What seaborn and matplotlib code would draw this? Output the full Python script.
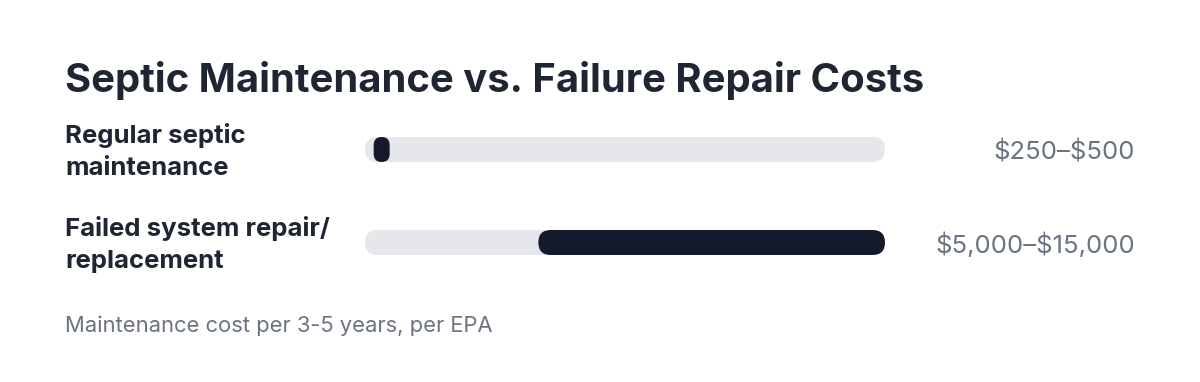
import numpy as np
import pandas as pd
import seaborn as sns
import matplotlib
matplotlib.use("Agg")
import matplotlib.pyplot as plt
from matplotlib.patches import FancyBboxPatch

# ---- data ----
categories = ["Regular septic\nmaintenance", "Failed system repair/\nreplacement"]
low_values = [250, 5000]
high_values = [500, 15000]
value_labels = ["$250–$500", "$5,000–$15,000"]
axis_max = 15000
title = "Septic Maintenance vs. Failure Repair Costs"
footnote = "Maintenance cost per 3-5 years, per EPA"

sns.set_theme(style="white")
plt.rcParams["font.family"] = ["Inter", "DejaVu Sans"]
plt.rcParams["text.parse_math"] = False

W, H, DPI = 1200, 382, 100
fig = plt.figure(figsize=(W / DPI, H / DPI), dpi=DPI)
fig.patch.set_facecolor("white")

# axes placement in pixels
ax_left, ax_right = 365, 885
row_gap = 93
row0_center = 149.5
ax_top = row0_center - row_gap / 2
ax_bottom = ax_top + row_gap * len(categories)
ax = fig.add_axes([ax_left / W, 1 - ax_bottom / H, (ax_right - ax_left) / W, (ax_bottom - ax_top) / H])

df = pd.DataFrame({"category": categories, "low": low_values, "high": high_values,
                   "track": [axis_max] * len(categories)})

bar_px = 25
bar_h = bar_px / row_gap
sns.barplot(data=df, y="category", x="track", orient="h", color="#e5e7eb",
            width=bar_h, ax=ax, saturation=1)
ax.set_xlim(0, axis_max)
ax.set_ylim(len(categories) - 0.5, -0.5)

xdata_per_px = axis_max / (ax_right - ax_left)
ydata_per_px = 1 / row_gap
m_aspect = ydata_per_px / xdata_per_px
radius_px = bar_px / 2

def rounded(x0, x1, yc, color, min_px=0):
    w_px = max((x1 - x0) / xdata_per_px, min_px)
    r = min(radius_px, w_px / 2)
    p = FancyBboxPatch((x0, yc - bar_h / 2), w_px * xdata_per_px, bar_h,
                       boxstyle=f"round,pad=0,rounding_size={r * xdata_per_px}",
                       mutation_aspect=m_aspect, facecolor=color, edgecolor="none",
                       linewidth=0)
    ax.add_patch(p)

# replace seaborn track bars with rounded ones
tracks = list(ax.patches)
for patch in tracks:
    x0 = patch.get_x()
    w = patch.get_width()
    yc = patch.get_y() + patch.get_height() / 2
    patch.remove()
    rounded(x0, x0 + w, yc, "#e5e7eb")

for i, (lo, hi) in enumerate(zip(low_values, high_values)):
    rounded(lo, hi, i, "#141a2b", min_px=16)

ax.axis("off")

# texts (pixel positions -> figure fraction)
def fx(px):
    return px / W

def fy(py):
    return 1 - py / H

fig.text(fx(65), fy(81), title, fontsize=28.8, fontweight="bold", color="#1f2533",
         ha="left", va="center")
for i, (cat, lab) in enumerate(zip(categories, value_labels)):
    yc = row0_center + i * row_gap
    fig.text(fx(65), fy(yc + 2), cat, fontsize=18.5, fontweight="bold", color="#1f2533",
             ha="left", va="center", linespacing=1.5)
    fig.text(fx(1135), fy(yc + 3), lab, fontsize=18.5, color="#6b7280",
             ha="right", va="center")
fig.text(fx(65), fy(326), footnote, fontsize=15.8, color="#6b7280", ha="left", va="center")

fig.savefig("out.png", dpi=DPI, facecolor="white")
